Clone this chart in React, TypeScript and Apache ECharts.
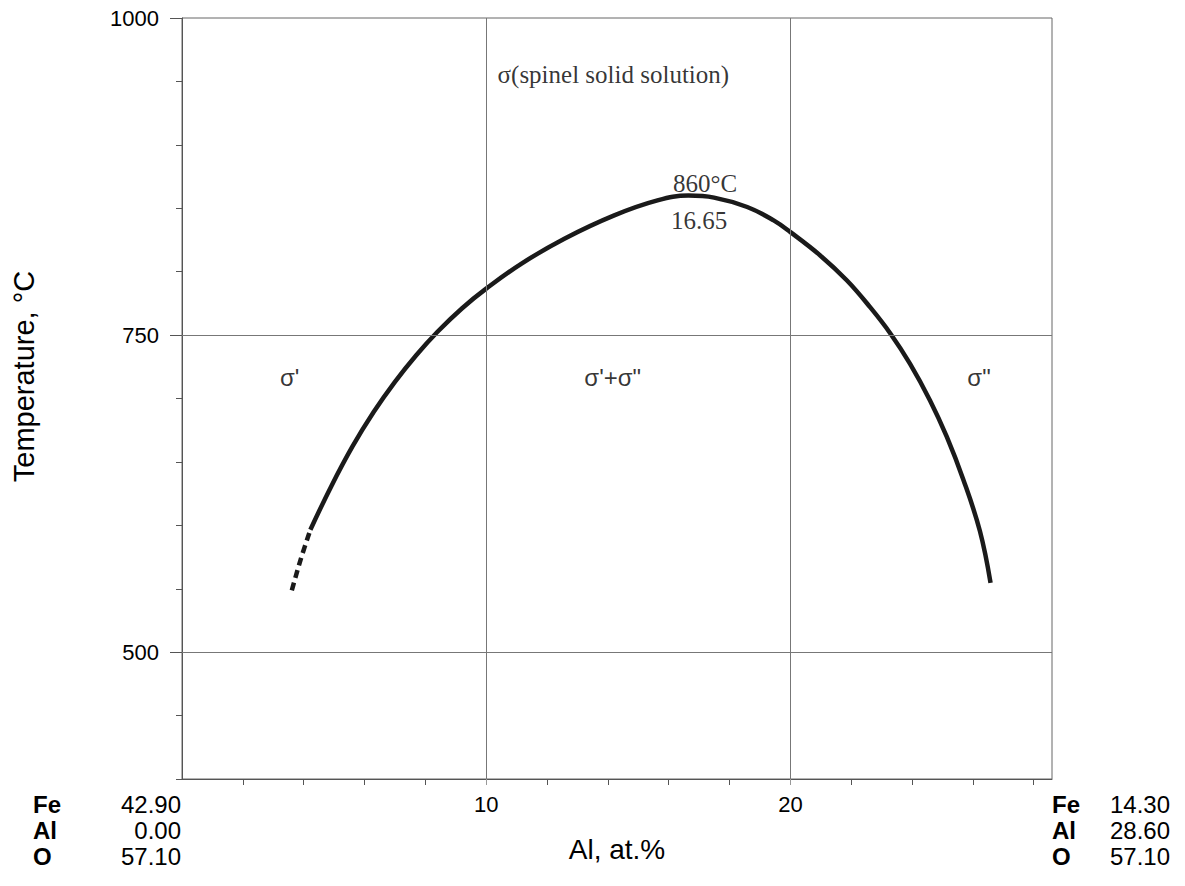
import React, { useEffect, useRef } from "react";
import * as echarts from "echarts";

// Solvus curve (Al at.% vs temperature °C)
const dashedAl = [3.61, 3.9, 4.22];
const dashedT = [548.7, 573, 596.5];
const curveAl = [4.22, 4.9, 5.6, 6.3, 7.0, 7.7, 8.4, 9.2, 10.0, 11.15, 12.57, 14.21, 15.63, 16.65, 17.49, 18.58, 19.45, 20.0, 20.98, 21.86, 22.62, 23.28, 23.93, 24.59, 25.14, 25.68, 26.23, 26.58];
const curveT = [596.5, 630.5, 662, 689.3, 713.1, 734.1, 752.6, 771, 786.6, 806.2, 826, 844.4, 856.2, 860, 858.4, 851, 840.4, 831.2, 812.8, 793, 772, 751.5, 727.5, 698.5, 669.9, 636.4, 595.5, 554.7];

// Axis ticks / grid
const xLabelValues = [10, 20];
const xMinorTicks = [2, 4, 6, 8, 12, 14, 16, 18, 22, 24, 26, 28];
const yLabelValues = [500, 750, 1000];
const xGridValues = [10, 20];
const yGridValues = [500, 750];

// Annotations
const serifNotes = ["σ(spinel solid solution)", "860°C", "16.65"];
const serifAl = [14.18, 17.2, 17.0];
const serifT = [955.8, 869.7, 840.4];
const sansNotes = ["σ'", "σ'+σ\"", "σ\""];
const sansAl = [3.54, 14.16, 26.2];
const sansT = [716.4, 716.4, 716.4];

// Composition end members
const elements = ["Fe", "Al", "O"];
const leftComp = ["42.90", "0.00", "57.10"];
const rightComp = ["14.30", "28.60", "57.10"];

const SANS = "'Liberation Sans', Arial, sans-serif";
const SERIF = "'Liberation Serif', 'Times New Roman', serif";

export default function App() {
  const ref = useRef<HTMLDivElement>(null);
  useEffect(() => {
    if (!ref.current) return;
    const chart = echarts.init(ref.current, null, { renderer: "svg" });
    const rowY = [804, 830, 856];
    const graphic: any[] = [];
    elements.forEach((el, i) => {
      graphic.push({ type: "text", x: 33, y: rowY[i], style: { text: el, font: `bold 24px ${SANS}`, fill: "#000", align: "left", verticalAlign: "middle" } });
      graphic.push({ type: "text", x: 181, y: rowY[i], style: { text: leftComp[i], font: `24px ${SANS}`, fill: "#000", align: "right", verticalAlign: "middle" } });
      graphic.push({ type: "text", x: 1052, y: rowY[i], style: { text: el, font: `bold 24px ${SANS}`, fill: "#000", align: "left", verticalAlign: "middle" } });
      graphic.push({ type: "text", x: 1170, y: rowY[i], style: { text: rightComp[i], font: `24px ${SANS}`, fill: "#000", align: "right", verticalAlign: "middle" } });
    });

    const gridLine = { color: "#777", width: 1, type: "solid" as const };
    chart.setOption({
      animation: false,
      backgroundColor: "#fff",
      grid: { left: 182, top: 18, right: 133, bottom: 107, show: true, borderColor: "#666", borderWidth: 1 },
      xAxis: [
        {
          type: "value", min: 0, max: 28.6, interval: 10, position: "bottom",
          name: "Al, at.%", nameLocation: "middle", nameGap: 56,
          nameTextStyle: { fontSize: 28, fontFamily: SANS, color: "#000" },
          axisLine: { show: true, lineStyle: { color: "#555", width: 1 } },
          axisTick: { show: true, customValues: xLabelValues, length: 6, lineStyle: { color: "#999" } },
          axisLabel: { show: true, customValues: xLabelValues, margin: 14, fontSize: 22, fontFamily: SANS, color: "#000", formatter: (v: number) => String(v) },
          splitLine: { show: false },
        },
        {
          type: "value", min: 0, max: 28.6, interval: 2, position: "bottom",
          axisLine: { show: false },
          axisTick: { show: true, customValues: xMinorTicks, length: 6, lineStyle: { color: "#555" } },
          axisLabel: { show: false },
          splitLine: { show: false },
        },
      ],
      yAxis: [
        {
          type: "value", min: 400, max: 1000, interval: 50, position: "left",
          name: "Temperature, °C", nameLocation: "middle", nameRotate: 90, nameGap: 144,
          nameTextStyle: { fontSize: 29, fontFamily: SANS, color: "#000", padding: [0, 0, 0, 44] },
          axisLine: { show: true, lineStyle: { color: "#555", width: 1 } },
          axisTick: { show: true, customValues: yLabelValues, length: 12, lineStyle: { color: "#555" } },
          axisLabel: { show: true, customValues: yLabelValues, margin: 23, fontSize: 22, fontFamily: SANS, color: "#000", formatter: (v: number) => String(v) },
          splitLine: { show: false },
        },
        {
          type: "value", min: 400, max: 1000, interval: 50, position: "left",
          axisLine: { show: false },
          axisTick: { show: true, length: 6, lineStyle: { color: "#555" } },
          axisLabel: { show: false },
          splitLine: { show: false },
        },
      ],
      series: [
        {
          type: "line", name: "grid", data: [], z: 1, silent: true,
          markLine: {
            silent: true, symbol: "none", animation: false, label: { show: false },
            lineStyle: gridLine,
            data: [
              ...xGridValues.map((v) => ({ xAxis: v })),
              ...yGridValues.map((v) => ({ yAxis: v })),
            ],
          },
        },
        {
          type: "line", name: "metastable", z: 3,
          data: dashedAl.map((x, i) => [x, dashedT[i]]),
          showSymbol: false, smooth: 0.3,
          lineStyle: { color: "#1a1a1a", width: 4.5, type: [8, 5] },
        },
        {
          type: "line", name: "solvus", z: 3,
          data: curveAl.map((x, i) => [x, curveT[i]]),
          showSymbol: false, smooth: 0.4,
          lineStyle: { color: "#1a1a1a", width: 4.5 },
        },
        {
          type: "scatter", name: "serifNotes", z: 4, symbolSize: 1, silent: true,
          itemStyle: { color: "rgba(0,0,0,0)" },
          data: serifNotes.map((t, i) => ({ name: t, value: [serifAl[i], serifT[i]] })),
          label: { show: true, position: "inside", formatter: (p: any) => p.name, fontSize: 25, fontFamily: SERIF, color: "#000" },
        },
        {
          type: "scatter", name: "sansNotes", z: 4, symbolSize: 1, silent: true,
          itemStyle: { color: "rgba(0,0,0,0)" },
          data: sansNotes.map((t, i) => ({ name: t, value: [sansAl[i], sansT[i]] })),
          label: { show: true, position: "inside", formatter: (p: any) => p.name, fontSize: 24, fontFamily: SANS, color: "#000" },
        },
      ],
      graphic,
    });
    return () => chart.dispose();
  }, []);
  return (
    <div
      ref={ref}
      style={{ position: "fixed", left: 0, top: 0, width: 1185, height: 886, background: "#fff" }}
    />
  );
}
